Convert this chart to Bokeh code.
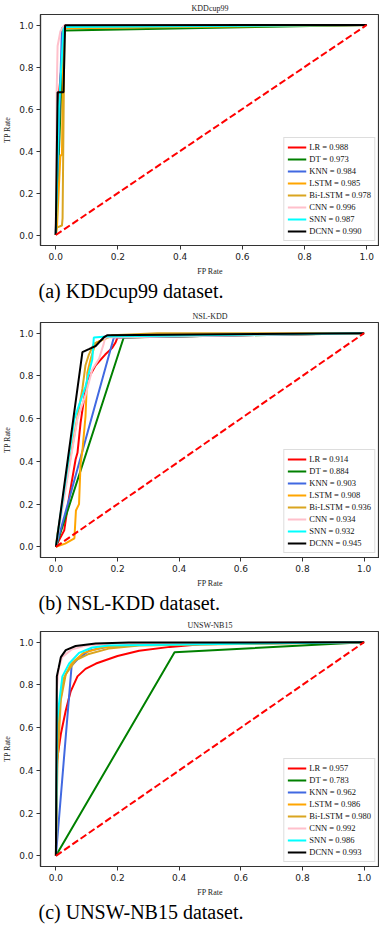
from bokeh.plotting import figure
from bokeh.layouts import column
from bokeh.models import Title, Range1d, FixedTicker, PrintfTickFormatter, Legend, LegendItem
from bokeh.embed import file_html
from bokeh.resources import INLINE

MODELS = ["LR", "DT", "KNN", "LSTM", "Bi-LSTM", "CNN", "SNN", "DCNN"]
COLORS = ["#ff0000", "#008000", "#4169e1", "#ffa500", "#daa520", "#ffc0cb", "#00ffff", "#000000"]
TICKS = [0.0, 0.2, 0.4, 0.6, 0.8, 1.0]

# ---- KDDcup99 ----
KDD_AUC = [0.988, 0.973, 0.984, 0.985, 0.978, 0.996, 0.987, 0.990]
KDD_FPR = {
    "LR": [0, 0.009, 0.03, 0.174, 1],
    "DT": [0, 0.025, 0.03, 1],
    "KNN": [0, 0.02, 0.026, 1],
    "LSTM": [0, 0.004, 0.015, 0.02, 0.025, 1],
    "Bi-LSTM": [0, 0.003, 0.02, 0.022, 0.028, 1],
    "CNN": [0, 0.003, 0.006, 0.015, 0.028, 1],
    "SNN": [0, 0.01, 0.025, 0.03, 1],
    "DCNN": [0, 0.006, 0.025, 0.03, 1],
}
KDD_TPR = {
    "LR": [0, 0.65, 0.988, 0.988, 1],
    "DT": [0, 0.972, 0.974, 1],
    "KNN": [0, 0.984, 0.99, 1],
    "LSTM": [0, 0.04, 0.38, 0.38, 0.985, 1],
    "Bi-LSTM": [0, 0.035, 0.045, 0.08, 0.99, 1],
    "CNN": [0, 0.68, 0.9, 0.97, 1.0, 1],
    "SNN": [0, 0.6, 0.98, 0.99, 1],
    "DCNN": [0, 0.68, 0.68, 0.999, 1],
}

# ---- NSL-KDD ----
NSL_AUC = [0.914, 0.884, 0.903, 0.908, 0.936, 0.934, 0.932, 0.945]
NSL_FPR = {
    "LR": [0, 0.01, 0.027, 0.043, 0.064, 0.07, 0.08, 0.091, 0.102, 0.129, 0.16, 0.182, 0.193, 0.2, 1],
    "DT": [0, 0.22, 1],
    "KNN": [0, 0.188, 1],
    "LSTM": [0, 0.03, 0.06, 0.065, 0.075, 0.08, 0.086, 0.096, 0.102, 0.113, 0.129, 0.182, 1],
    "Bi-LSTM": [0, 0.005, 0.07, 0.086, 0.096, 0.107, 0.123, 0.182, 0.33, 1],
    "CNN": [0, 0.07, 0.096, 0.118, 0.14, 0.155, 0.16, 1],
    "SNN": [0, 0.06, 0.096, 0.107, 0.118, 0.123, 0.164, 1],
    "DCNN": [0, 0.086, 0.107, 0.129, 0.155, 0.166, 1],
}
NSL_TPR = {
    "LR": [0, 0.03, 0.077, 0.234, 0.41, 0.44, 0.58, 0.69, 0.78, 0.85, 0.9, 0.93, 0.955, 0.98, 1],
    "DT": [0, 0.98, 1],
    "KNN": [0, 0.98, 1],
    "LSTM": [0, 0.015, 0.04, 0.17, 0.2, 0.39, 0.45, 0.61, 0.815, 0.88, 0.955, 0.988, 1],
    "Bi-LSTM": [0, 0.06, 0.61, 0.74, 0.85, 0.9, 0.95, 0.99, 1.0, 1],
    "CNN": [0, 0.6, 0.71, 0.83, 0.88, 0.95, 0.98, 1],
    "SNN": [0, 0.6, 0.75, 0.815, 0.877, 0.98, 0.985, 1],
    "DCNN": [0, 0.911, 0.925, 0.94, 0.98, 0.99, 1],
}

# ---- UNSW-NB15 ----
UNSW_AUC = [0.957, 0.783, 0.962, 0.986, 0.980, 0.992, 0.986, 0.993]
UNSW_FPR = {
    "LR": [0, 0.004, 0.016, 0.032, 0.048, 0.07, 0.096, 0.13, 0.2, 0.27, 0.37, 0.47, 1],
    "DT": [0, 0.385, 1],
    "KNN": [0, 0.051, 0.07, 0.107, 0.171, 0.3, 1],
    "LSTM": [0, 0.004, 0.012, 0.025, 0.05, 0.09, 0.15, 0.3, 1],
    "Bi-LSTM": [0, 0.005, 0.016, 0.032, 0.064, 0.107, 0.171, 0.27, 1],
    "CNN": [0, 0.003, 0.008, 0.02, 0.05, 0.1, 0.2, 1],
    "SNN": [0, 0.004, 0.009, 0.021, 0.043, 0.075, 0.118, 0.171, 1],
    "DCNN": [0, 0.003, 0.009, 0.016, 0.032, 0.064, 0.129, 0.236, 1],
}
UNSW_TPR = {
    "LR": [0, 0.45, 0.57, 0.68, 0.77, 0.84, 0.875, 0.9, 0.935, 0.96, 0.978, 0.99, 1],
    "DT": [0, 0.953, 1],
    "KNN": [0, 0.89, 0.92, 0.96, 0.98, 0.99, 1],
    "LSTM": [0, 0.5, 0.7, 0.83, 0.9, 0.95, 0.975, 0.99, 1],
    "Bi-LSTM": [0, 0.43, 0.73, 0.85, 0.915, 0.945, 0.97, 0.985, 1],
    "CNN": [0, 0.78, 0.87, 0.93, 0.965, 0.985, 0.995, 1],
    "SNN": [0, 0.62, 0.70, 0.84, 0.90, 0.95, 0.975, 0.985, 1],
    "DCNN": [0, 0.84, 0.88, 0.93, 0.963, 0.982, 0.994, 0.998, 1],
}

PANELS = [
    ("KDDcup99", "(a) KDDcup99 dataset.", KDD_FPR, KDD_TPR, KDD_AUC),
    ("NSL-KDD", "(b) NSL-KDD dataset.", NSL_FPR, NSL_TPR, NSL_AUC),
    ("UNSW-NB15", "(c) UNSW-NB15 dataset.", UNSW_FPR, UNSW_TPR, UNSW_AUC),
]
HEIGHTS = [308, 309, 307]
TOPS = [12, 14, 14]
BOTTOMS = [63, 60, 58]
XEND = [1.041, 1.05, 1.05]
XSTART = [-0.049, -0.05, -0.05]

SERIF = "Liberation Serif"
SANS = "DejaVu Sans"


def make_panel(title, caption, fpr, tpr, auc, h, top, bottom, x0, x1):
    p = figure(width=379, height=h, output_backend="svg", toolbar_location=None,
               x_range=Range1d(x0, x1), y_range=Range1d(-0.05, 1.05),
               min_border_left=37, min_border_right=0, min_border_top=top,
               min_border_bottom=bottom)
    p.title.text = title
    p.title.text_font = SERIF
    p.title.text_font_size = "8px"
    p.title.text_font_style = "normal"
    p.title.align = "center"
    p.title.standoff = 3
    p.title.text_color = "#222222"
    p.xgrid.visible = False
    p.ygrid.visible = False
    p.outline_line_color = "#333333"
    p.outline_line_width = 1.2
    p.background_fill_color = "white"
    p.border_fill_color = "white"
    for ax, lab in ((p.xaxis[0], "FP Rate"), (p.yaxis[0], "TP Rate")):
        ax.ticker = FixedTicker(ticks=TICKS)
        ax.formatter = PrintfTickFormatter(format="%.1f")
        ax.minor_tick_line_color = None
        ax.major_tick_in = 0
        ax.major_tick_out = 4
        ax.major_tick_line_color = "#333333"
        ax.axis_line_color = "#333333"
        ax.axis_line_width = 1.2
        ax.major_label_text_font = SANS
        ax.major_label_text_font_size = "9px"
        ax.major_label_text_color = "#222222"
        ax.major_label_standoff = 3
        ax.axis_label = lab
        ax.axis_label_text_font = SERIF
        ax.axis_label_text_font_size = "8px"
        ax.axis_label_text_font_style = "normal"
        ax.axis_label_text_color = "#222222"
        ax.axis_label_standoff = 4

    items = []
    for m, c, a in zip(MODELS, COLORS, auc):
        r = p.line(fpr[m], tpr[m], line_color=c, line_width=2)
        items.append(LegendItem(label=f"{m} = {a:.3f}", renderers=[r]))
    p.line([0, 1], [0, 1], line_color="#ff0000", line_width=2, line_dash="7 3")

    leg = Legend(items=items, location="bottom_right")
    leg.label_text_font = SERIF
    leg.label_text_font_size = "8.5px"
    leg.label_text_color = "#111111"
    leg.glyph_width = 19
    leg.glyph_height = 12
    leg.label_height = 12
    leg.label_standoff = 3
    leg.spacing = 0
    leg.padding = 3
    leg.margin = 4
    leg.border_line_color = "#bbbbbb"
    leg.border_line_width = 1
    leg.background_fill_color = "white"
    leg.background_fill_alpha = 1.0
    p.add_layout(leg, "center")

    cap = Title(text=caption, align="left", text_font=SERIF, text_font_size="20px",
                text_font_style="normal", text_color="#000000", standoff=-1, offset=-2)
    p.add_layout(cap, "below")
    return p


plots = [make_panel(t, c, f, tp, a, h, tp_, b, x0, x1)
         for (t, c, f, tp, a), h, tp_, b, x0, x1 in zip(PANELS, HEIGHTS, TOPS, BOTTOMS, XSTART, XEND)]
layout = column(*plots, spacing=0, width=379)

open("out.html", "w").write(file_html(layout, INLINE))
